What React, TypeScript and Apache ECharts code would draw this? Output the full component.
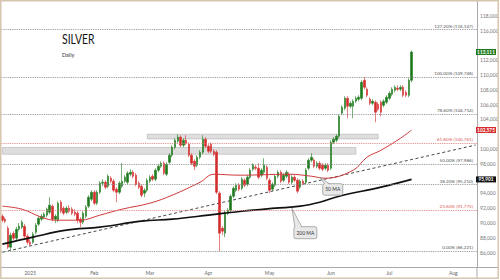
import React, { useEffect, useRef } from "react";
import * as echarts from "echarts";

// ---------- data ----------
const FIRST_DAY = "2024-12-18";
const LAST_DAY = "2025-08-13";
const MONTHS = ["Jan", "Feb", "Mar", "Apr", "May", "Jun", "Jul", "Aug", "Sep", "Oct", "Nov", "Dec"];

// [open, close, low, high]
const candles: number[][] = [
  [90930, 90390, 90120, 91200], [90530, 90260, 89990, 90800], [89300, 86750, 86500, 89600], [86750, 88370, 86340, 88700],
  [88600, 87960, 87700, 88900], [87960, 89180, 87700, 89500], [89180, 89580, 88900, 90000], [89450, 90120, 89200, 90400],
  [89580, 88230, 88000, 89900], [88230, 87420, 87100, 88500], [87420, 87150, 86900, 87800], [87400, 88500, 87200, 88800],
  [88770, 89720, 88500, 90000], [89850, 90660, 89600, 90900], [90530, 90930, 90260, 91200], [90800, 91200, 90530, 91470],
  [91070, 91880, 90800, 92100], [91470, 92420, 91200, 93500], [92280, 90530, 90260, 92550], [90530, 90930, 90000, 91200],
  [90390, 92690, 90120, 92950], [92820, 91600, 91340, 93100], [92010, 91340, 91070, 92280], [91470, 92010, 91200, 92280],
  [92010, 91600, 91340, 92400], [91880, 91340, 91070, 92150], [91470, 91200, 90930, 91880], [91340, 90390, 89990, 91600],
  [90530, 90120, 89450, 90800], [90120, 91340, 89850, 91600], [90930, 92150, 90660, 92420], [92280, 93500, 92010, 93770],
  [93230, 94170, 92950, 94440], [94170, 92690, 92420, 94440], [92690, 94170, 92420, 94440], [94170, 95390, 93900, 95660],
  [95390, 95520, 95000, 95930], [95520, 94850, 94580, 95790], [94980, 96330, 94710, 96600], [96060, 95660, 95390, 96330],
  [95660, 94440, 94170, 95930], [94580, 94170, 92820, 94850], [94170, 95390, 93900, 95660], [94980, 95660, 94710, 98090],
  [95660, 96200, 95390, 96470], [95520, 96740, 95250, 97010], [96600, 96870, 96330, 97280], [96870, 96330, 96060, 97140],
  [96470, 95250, 94980, 96740], [95390, 94850, 94580, 95660], [94980, 93770, 93500, 95250], [94040, 94440, 93500, 94710],
  [94440, 95790, 94170, 96060], [95660, 96200, 95390, 96470], [96330, 95930, 95660, 96600], [95930, 97140, 95660, 97410],
  [97140, 97680, 96870, 97950], [97680, 98090, 97410, 98360], [98090, 96740, 96470, 98360], [96600, 97950, 96330, 98220],
  [98220, 99170, 97950, 99440], [99170, 100250, 98900, 100520], [100250, 101190, 99980, 101460], [101060, 101600, 100790, 102000],
  [101600, 100520, 100250, 101870], [100520, 101190, 100250, 101460], [101190, 100790, 100520, 101870], [100650, 99170, 98900, 100920],
  [99170, 98090, 97820, 99440], [98360, 97680, 97140, 98630], [97820, 98900, 97550, 99170], [98900, 99570, 98630, 99840],
  [99570, 101330, 99300, 101870], [101330, 100380, 100110, 101600], [100380, 99710, 99440, 100650], [100650, 99710, 99440, 100920],
  [99710, 99300, 99030, 99980], [99570, 94170, 93900, 99840], [94040, 88640, 86221, 94300], [89310, 88910, 88370, 89580],
  [88640, 91470, 88100, 91740], [91340, 91740, 91070, 92010], [91740, 93630, 91470, 93900], [93630, 94710, 93360, 94980],
  [94440, 95120, 94170, 95390], [95120, 94580, 94310, 95390], [94710, 95930, 94440, 96200], [95790, 95120, 94850, 96060],
  [95250, 96200, 94980, 96470], [96200, 97140, 95930, 97410], [97280, 97820, 97010, 98090], [97550, 97410, 97140, 97820],
  [97410, 96200, 95930, 98090], [96470, 97140, 96200, 97410], [96870, 97820, 96600, 98760], [97550, 96060, 95790, 97820],
  [95790, 94440, 94040, 96060], [94580, 95250, 94310, 95520], [95120, 96330, 94850, 96600], [96330, 96870, 96060, 97140],
  [96870, 95660, 95390, 97140], [95790, 96470, 95520, 96740], [96330, 96870, 96060, 97140], [96600, 95520, 95250, 96870],
  [95520, 96200, 95250, 96470], [96200, 95790, 95520, 96470], [95790, 94310, 94040, 96060], [94850, 95660, 94580, 95930],
  [95660, 95390, 95120, 95930], [95520, 97140, 95250, 97410], [97410, 98490, 97140, 98760], [98490, 98900, 98220, 99440],
  [98490, 97680, 97410, 98760], [97680, 98090, 97410, 98360], [98090, 97410, 97140, 98360], [97820, 97280, 97010, 98090],
  [97410, 97820, 97140, 98090], [97820, 97140, 96870, 98090], [97410, 100920, 97140, 101190], [100920, 101330, 100650, 101600],
  [101190, 101730, 100920, 102000], [101730, 104430, 101460, 104700], [104840, 105650, 104570, 105920], [105510, 106860, 105240, 107130],
  [106860, 105780, 104160, 107130], [105780, 106190, 105510, 106460], [105780, 106460, 104160, 106730], [106460, 106860, 106190, 107130],
  [106730, 107000, 106460, 107270], [106860, 109020, 106590, 109290], [109290, 108350, 108080, 109748], [108080, 107270, 107000, 108350],
  [106730, 106190, 105920, 107000], [106190, 106460, 105920, 106730], [106320, 104970, 103620, 106590], [106060, 105380, 105110, 106320],
  [106320, 104970, 104430, 106590], [105920, 106460, 105650, 106730], [106320, 107000, 106060, 107270], [106860, 107540, 106590, 107810],
  [107400, 108080, 107130, 108350], [107940, 108350, 107670, 108620], [108210, 108080, 107810, 108620], [108080, 108350, 107810, 108620],
  [108350, 107270, 107000, 108620], [107670, 107270, 106990, 107940], [107270, 109290, 107000, 109560], [109290, 113111, 109020, 113300],
];

// [category index, value]
const ma50Points: number[][] = [
  [0, 92280], [7, 91880], [14, 90800], [19, 90390], [28, 90390], [35, 91070], [43, 91880], [53, 92690],
  [61, 93770], [71, 95520], [76, 96600], [85, 96470], [103, 96600], [111, 96330], [116, 96060], [126, 97140],
  [131, 98900], [136, 99840], [143, 101460], [147, 102575],
];
const ma200Points: number[][] = [
  [0, 87150], [11, 88100], [23, 89040], [35, 89450], [50, 90260], [61, 90530], [74, 91070], [86, 91600],
  [98, 92010], [107, 92280], [114, 92820], [121, 93630], [136, 94850], [147, 95901],
];
const trendPoints: number[][] = [[0, 86060], [170, 100540]];

const fibPercents = ["127.20%", "100.00%", "78.60%", "61.80%", "50.00%", "38.20%", "23.60%", "0.00%"];
const fibValues = [116147, 109748, 104714, 100761, 97986, 95210, 91775, 86221];
const fibIsRed = [false, false, false, true, false, false, true, false];

// [fromIndex, toIndex, top, bottom]
const zones: number[][] = [[52, 135, 102000, 101370], [0, 127, 100210, 99300]];

const calloutTexts = ["50 MA", "200 MA"];
const calloutAnchors: number[][] = [[114, 96200], [104, 92010]];

const Y_MIN = 84000;
const Y_MAX = 120000;
const Y_STEP = 2000;

// ---------- helpers ----------
function weekdays(from: string, to: string): string[] {
  const out: string[] = [];
  const d = new Date(from + "T00:00:00Z");
  const end = new Date(to + "T00:00:00Z");
  while (d <= end) {
    const w = d.getUTCDay();
    if (w !== 0 && w !== 6) out.push(d.toISOString().slice(0, 10));
    d.setUTCDate(d.getUTCDate() + 1);
  }
  return out;
}
const dates = weekdays(FIRST_DAY, LAST_DAY);
const isMonthStart = (i: number) => i > 0 && dates[i].slice(5, 7) !== dates[i - 1].slice(5, 7);
const fmt = (v: number) => Math.round(v).toLocaleString("en-US");

const UP = "#1f7a1f";
const DOWN = "#d42b2b";
const FONT = "Lato, 'Liberation Sans', sans-serif";

const lastClose = candles[candles.length - 1][1];
const lastMa50 = ma50Points[ma50Points.length - 1][1];
const lastMa200 = ma200Points[ma200Points.length - 1][1];
const tagValues = [lastClose, lastMa50, lastMa200];
const tagColors = ["#1f7a1f", "#d42b2b", "#111111"];

export default function App() {
  const ref = useRef<HTMLDivElement>(null);
  useEffect(() => {
    document.body.style.margin = "0";
    if (!ref.current) return;
    const chart = echarts.init(ref.current, null, { renderer: "svg" });

    chart.setOption({
      animation: false,
      backgroundColor: "#ffffff",
      textStyle: { fontFamily: FONT },
      grid: { left: 1, right: 23, top: 1, bottom: 12.5, outerBoundsMode: "none", containLabel: false },
      xAxis: {
        type: "category",
        data: dates,
        boundaryGap: true,
        axisLine: { show: true, lineStyle: { color: "#aaaaaa", width: 1 } },
        axisTick: { show: false },
        splitLine: { show: false },
        axisLabel: {
          interval: (i: number) => isMonthStart(i),
          formatter: (v: string) => {
            const m = parseInt(v.slice(5, 7), 10) - 1;
            return m === 0 ? v.slice(0, 4) : MONTHS[m];
          },
          fontSize: 5,
          color: "#666666",
          margin: 3,
          fontFamily: FONT,
        },
      },
      yAxis: {
        type: "value",
        position: "right",
        min: Y_MIN,
        max: Y_MAX,
        interval: Y_STEP,
        axisLine: { show: true, lineStyle: { color: "#aaaaaa", width: 1 } },
        axisTick: { show: false },
        splitLine: { show: false },
        axisLabel: {
          showMinLabel: false,
          showMaxLabel: false,
          fontSize: 5,
          color: "#777777",
          margin: 3,
          fontFamily: FONT,
          // labels hidden beneath a price tag, as in the reference
          formatter: (v: number) => (tagValues.some((t) => Math.abs(t - v) < 1000) ? "" : fmt(v)),
        },
      },
      series: [
        {
          type: "candlestick",
          data: candles,
          barWidth: 2,
          itemStyle: { color: UP, color0: DOWN, borderColor: UP, borderColor0: DOWN, borderWidth: 0.6 },
          z: 3,
          markArea: {
            silent: true,
            itemStyle: { color: "#dedede", borderColor: "#b4b4b4", borderWidth: 0.6 },
            data: zones.map((z) => [
              { xAxis: z[0], yAxis: z[2] },
              { xAxis: z[1], yAxis: z[3] },
            ]),
          },
          markLine: {
            silent: true,
            symbol: ["none", "none"],
            data: fibValues.map((v, i) => ({
              yAxis: v,
              lineStyle: { color: fibIsRed[i] ? "#e07a7a" : "#8a8a8a", type: "dotted", width: 0.9 },
              label: {
                show: true,
                position: "insideEndTop",
                distance: [4, 1.5],
                formatter: `${fibPercents[i]} (${fmt(v)})`,
                fontSize: 4.6,
                color: fibIsRed[i] ? "#d85a5a" : "#555555",
                fontFamily: FONT,
              },
            })),
          },
        },
        {
          type: "line",
          data: trendPoints,
          symbol: "none",
          lineStyle: { color: "#333333", width: 0.9, type: [3, 2.5] },
          z: 2,
        },
        {
          type: "line",
          data: ma200Points,
          symbol: "none",
          smooth: 0.4,
          lineStyle: { color: "#111111", width: 1.7 },
          z: 4,
        },
        {
          type: "line",
          data: ma50Points,
          symbol: "none",
          smooth: 0.4,
          lineStyle: { color: "#cf3a3a", width: 1 },
          z: 4,
        },
      ],
    });

    // overlays computed from the chart's own scales
    const toY = (v: number) => chart.convertToPixel({ yAxisIndex: 0 }, v) as number;
    const toXY = (p: number[]) => chart.convertToPixel({ xAxisIndex: 0, yAxisIndex: 0 }, p) as number[];
    const axisX = 477;
    const graphics: any[] = [];
    tagValues.forEach((v, i) => {
      const y = toY(v);
      graphics.push({
        type: "rect",
        shape: { x: axisX - 1, y: y - 3, width: 20, height: 6 },
        style: { fill: tagColors[i] },
        z: 50,
      });
      graphics.push({
        type: "text",
        x: axisX + 9,
        y: y,
        style: { text: fmt(v), fill: "#ffffff", font: `bold 4.8px ${FONT}`, align: "center", verticalAlign: "middle" },
        z: 51,
      });
    });

    const boxes = [
      { dx: 3, dy: 6.5, w: 20, h: 11.5, t0: 2, t1: 7 },
      { dx: 2, dy: 18.5, w: 23, h: 12, t0: 1, t1: 8 },
    ];
    calloutTexts.forEach((label, i) => {
      const [ax, ay] = toXY(calloutAnchors[i]);
      const b = boxes[i];
      const bx = ax + b.dx;
      const by = ay + b.dy;
      graphics.push({
        type: "rect",
        shape: { x: bx, y: by, width: b.w, height: b.h, r: 2 },
        style: { fill: "#e8e8e8", stroke: "#8c8c8c", lineWidth: 0.7 },
        z: 40,
      });
      graphics.push({
        type: "polygon",
        shape: { points: [[ax, ay], [bx + b.t0, by + 1.2], [bx + b.t1, by + 1.2]] },
        style: { fill: "#e8e8e8" },
        z: 41,
      });
      graphics.push({
        type: "polyline",
        shape: { points: [[bx + b.t0, by + 0.3], [ax, ay], [bx + b.t1, by + 0.3]] },
        style: { stroke: "#8c8c8c", lineWidth: 0.7, fill: "none" },
        z: 42,
      });
      graphics.push({
        type: "text",
        x: bx + b.w / 2,
        y: by + b.h / 2,
        style: { text: label, fill: "#333333", font: `5px ${FONT}`, align: "center", verticalAlign: "middle" },
        z: 43,
      });
    });

    graphics.push({
      type: "text",
      x: 62,
      y: 39.5,
      scaleX: 0.8,
      style: { text: "SILVER", fill: "#111111", font: `13px ${FONT}`, align: "left", verticalAlign: "middle" },
      z: 30,
    });
    graphics.push({
      type: "text",
      x: 62,
      y: 55,
      style: { text: "Daily", fill: "#333333", font: `5.5px ${FONT}`, align: "left", verticalAlign: "middle" },
      z: 30,
    });
    // frame lines
    graphics.push({
      type: "line",
      shape: { x1: axisX, y1: 267, x2: axisX, y2: 278 },
      style: { stroke: "#aaaaaa", lineWidth: 1 },
      z: 20,
    });
    graphics.push({
      type: "line",
      shape: { x1: axisX, y1: 267.5, x2: 498, y2: 267.5 },
      style: { stroke: "#aaaaaa", lineWidth: 1 },
      z: 20,
    });
    graphics.push({
      type: "rect",
      shape: { x: 0.75, y: 0.75, width: 497.5, height: 277.5 },
      style: { fill: "none", stroke: "#d6c6ad", lineWidth: 1.5 },
      z: 60,
    });

    chart.setOption({ graphic: graphics });

    return () => chart.dispose();
  }, []);

  return <div ref={ref} style={{ width: 500, height: 280 }} />;
}
